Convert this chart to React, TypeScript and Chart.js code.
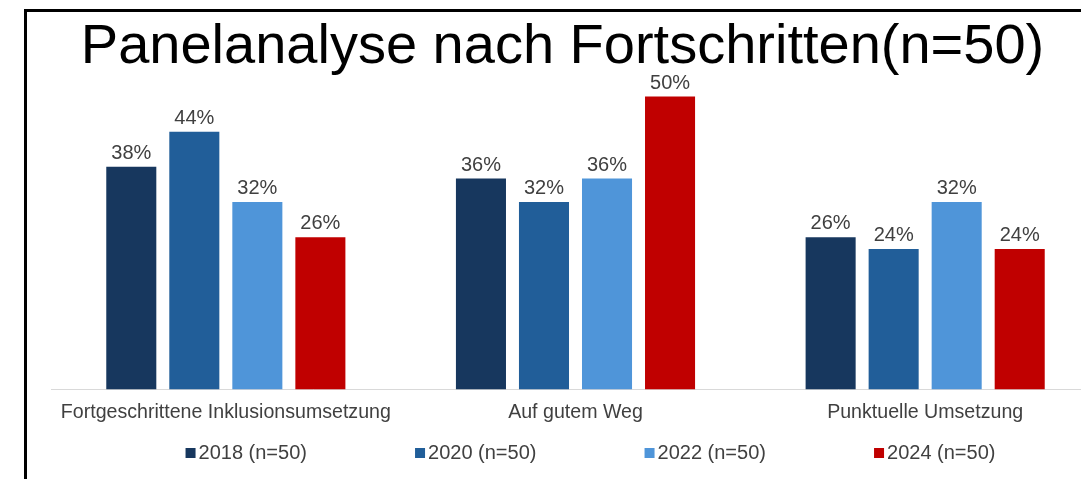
import { useEffect, useRef } from 'react';
import { Chart, registerables } from 'chart.js';

Chart.register(...registerables);

const categories = ['Fortgeschrittene Inklusionsumsetzung', 'Auf gutem Weg', 'Punktuelle Umsetzung'];
const seriesLabels = ['2018 (n=50)', '2020 (n=50)', '2022 (n=50)', '2024 (n=50)'];
const values2018 = [38, 36, 26];
const values2020 = [44, 32, 24];
const values2022 = [32, 36, 32];
const values2024 = [26, 50, 24];
const seriesColors = ['#17375E', '#215E99', '#4F95D9', '#C00000'];

const FONT = '"Liberation Sans", Arial, Helvetica, sans-serif';
const LEGEND_DX = 28;
const LEGEND_PITCH = 229.5;
const LEGEND_Y = 453;
const LEGEND_BOX = 10;
const LEGEND_TEXT_GAP = 3;

const valueLabels = {
  id: 'valueLabels',
  afterDatasetsDraw(chart: any) {
    const ctx = chart.ctx;
    ctx.save();
    ctx.font = `20px ${FONT}`;
    ctx.fillStyle = '#404040';
    ctx.textAlign = 'center';
    ctx.textBaseline = 'alphabetic';
    chart.data.datasets.forEach((ds: any, i: number) => {
      const meta = chart.getDatasetMeta(i);
      meta.data.forEach((bar: any, j: number) => {
        ctx.fillText(`${ds.data[j]}%`, bar.x, bar.y - 8);
      });
    });
    ctx.restore();
  },
};

const customLegend = {
  id: 'customLegend',
  afterDraw(chart: any) {
    const ctx = chart.ctx;
    const datasets = chart.data.datasets;
    ctx.save();
    ctx.font = `20px ${FONT}`;
    ctx.textBaseline = 'middle';
    ctx.textAlign = 'left';
    const lastW = LEGEND_BOX + LEGEND_TEXT_GAP + ctx.measureText(datasets[datasets.length - 1].label).width;
    const total = LEGEND_PITCH * (datasets.length - 1) + lastW;
    let x = chart.width / 2 + LEGEND_DX - total / 2;
    datasets.forEach((ds: any) => {
      ctx.fillStyle = ds.backgroundColor;
      ctx.fillRect(x, LEGEND_Y - LEGEND_BOX / 2, LEGEND_BOX, LEGEND_BOX);
      ctx.fillStyle = '#404040';
      ctx.fillText(ds.label, x + LEGEND_BOX + LEGEND_TEXT_GAP, LEGEND_Y);
      x += LEGEND_PITCH;
    });
    ctx.restore();
  },
};

export default function App() {
  const canvasRef = useRef<HTMLCanvasElement | null>(null);

  useEffect(() => {
    if (!canvasRef.current) return;
    const allValues = [values2018, values2020, values2022, values2024];
    const chart = new Chart(canvasRef.current, {
      type: 'bar',
      data: {
        labels: categories,
        datasets: allValues.map((vals, i) => ({
          label: seriesLabels[i],
          data: vals,
          backgroundColor: seriesColors[i],
          borderWidth: 0,
          categoryPercentage: 0.721,
          barPercentage: 0.794,
        })),
      },
      options: {
        animation: false,
        responsive: false,
        maintainAspectRatio: false,
        devicePixelRatio: 1,
        layout: { padding: { top: 0, bottom: 44, left: 0, right: 0 } },
        scales: {
          x: {
            grid: { display: false, drawTicks: false },
            border: { display: true, color: '#D9D9D9', width: 1 },
            ticks: { color: '#404040', font: { family: FONT, size: 19.6 }, padding: 11 },
          },
          y: {
            min: 0,
            max: 53,
            display: true,
            grid: { display: false, drawTicks: false },
            border: { display: false },
            ticks: { display: false },
            afterFit: (s: any) => {
              s.width = 26;
            },
          },
        },
        plugins: {
          title: {
            display: true,
            text: 'Panelanalyse nach Fortschritten(n=50)',
            color: '#000000',
            font: { family: FONT, size: 56, weight: 'normal', lineHeight: 1 },
            padding: { top: 20, bottom: 3 },
          },
          legend: { display: false },
          tooltip: { enabled: false },
        },
      },
      plugins: [valueLabels, customLegend],
    });
    return () => chart.destroy();
  }, []);

  return (
    <div
      style={{
        position: 'fixed',
        left: 0,
        top: 0,
        width: 1081,
        height: 479,
        overflow: 'hidden',
        background: '#ffffff',
      }}
    >
      <canvas
        ref={canvasRef}
        width={1075}
        height={479}
        style={{ position: 'absolute', left: 25, top: 0, width: 1075, height: 479 }}
      />
      <div
        style={{
          position: 'absolute',
          left: 24,
          top: 9,
          width: 1100,
          height: 500,
          borderLeft: '3px solid #000',
          borderTop: '3px solid #000',
          pointerEvents: 'none',
        }}
      />
    </div>
  );
}
